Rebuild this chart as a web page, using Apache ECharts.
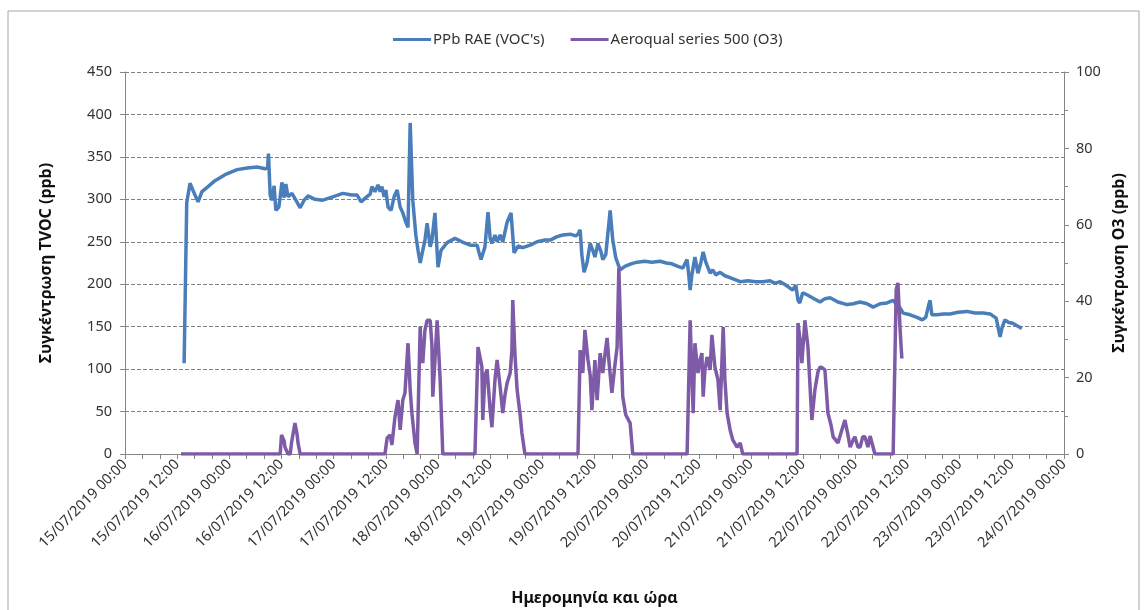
<!DOCTYPE html>
<html>
<head>
<meta charset="utf-8">
<script src="https://cdn.jsdelivr.net/npm/echarts@6/dist/echarts.min.js"></script>
<style>
    html, body { margin: 0; padding: 0; background: #fff; }
    #chart { width: 1147px; height: 610px; }
</style>
</head>
<body>
<div id="chart"></div>
<script>
'use strict';

// hours since 15/07/2019 00:00
var vocHours = [13.6, 14.2, 14.95, 15.6, 16.8, 17.7, 19.1, 20.7, 23.0, 25.8, 28.1, 30.4, 32.2, 32.8, 33.0, 33.4,
    33.8, 34.3, 34.7, 35.4, 36.1, 36.6, 37.0, 37.5, 38.4, 39.3, 40.3, 41.2, 42.1, 43.7, 45.5, 47.8, 50.1, 52.2,
    53.4, 54.3, 55.4, 56.4, 56.8, 57.5, 58.2, 58.7, 59.1, 59.6, 60.0, 60.5, 61.2, 61.9, 62.6, 63.3, 63.9, 64.6,
    65.1, 65.3, 65.6, 66.2, 66.9, 67.4, 67.9, 68.3, 69.0, 69.5, 70.2, 70.6, 71.3, 72.0, 72.7, 74.1, 75.9, 77.5,
    79.4, 81.0, 81.4, 81.9, 82.8, 83.5, 84.0, 84.4, 85.1, 85.6, 86.3, 86.9, 87.9, 88.3, 88.8, 89.5, 90.4, 91.5,
    93.2, 94.8, 96.6, 97.8, 99.4, 100.7, 102.4, 103.7, 104.2, 104.7, 105.1, 105.6, 106.3, 107.0, 107.6, 108.1,
    108.8, 109.5, 109.9, 110.6, 111.6, 112.2, 112.9, 113.9, 115.0, 116.4, 117.8, 119.6, 121.2, 123.1, 124.5,
    125.8, 127.2, 128.3, 129.3, 129.7, 130.0, 130.4, 131.1, 131.8, 132.5, 133.0, 133.6, 134.6, 135.2, 135.9,
    136.9, 138.0, 139.6, 141.5, 143.3, 145.1, 146.7, 148.4, 149.5, 150.7, 152.0, 153.6, 154.3, 154.8, 155.2,
    155.9, 157.1, 158.5, 159.9, 161.0, 162.2, 164.0, 166.1, 167.5, 169.1, 170.7, 172.1, 173.7, 175.3, 176.7,
    177.4, 178.3, 179.0, 180.6, 182.2, 183.4, 184.2, 184.9, 185.2, 185.6, 186.8, 188.2, 189.8, 191.6, 193.7,
    195.5, 197.4, 199.0, 200.4, 200.8, 201.3, 201.7, 202.4, 203.3, 204.2, 205.2, 206.3];
var vocValues = [107, 296, 319, 311, 297, 309, 315, 322, 329, 335, 337, 338, 336, 337, 354, 305,
    299, 316, 287, 291, 320, 302, 318, 303, 307, 299, 290, 299, 304, 300, 299, 303, 307, 305,
    305, 297, 302, 306, 315, 309, 317, 309, 315, 303, 311, 291, 287, 303, 311, 291, 284, 273,
    267, 266, 390, 299, 258, 240, 225, 226, 252, 272, 244, 252, 284, 220, 240, 249, 254, 250,
    246, 246, 238, 229, 244, 285, 254, 248, 258, 250, 258, 250, 273, 278, 284, 237, 245, 243,
    246, 250, 252, 252, 256, 258, 259, 257, 259, 264, 234, 214, 226, 248, 240, 232,
    248, 238, 229, 235, 287, 252, 231, 217, 221, 224, 226, 227, 226, 227, 225,
    224, 221, 219, 229, 210, 193, 211, 232, 213, 226, 238, 226, 213, 217, 211,
    214, 210, 207, 203, 204, 203, 203, 204, 201, 203, 199, 193, 199, 181, 178,
    190, 187, 183, 179, 183, 184, 179, 176, 177, 179, 177, 173, 177, 178, 181,
    177, 172, 166, 164, 161, 158, 161, 176, 181, 164, 164, 165, 165, 167, 168,
    166, 166, 165, 160, 158, 138, 148, 158, 155, 154, 151, 148];

var o3Hours = [12.9, 35.7, 36.0, 36.6, 36.8, 37.5, 38.0, 38.3, 39.1, 39.6, 39.8, 40.3,
    59.8, 60.3, 60.7, 61.0, 61.4, 62.1, 62.8, 63.3, 63.9, 64.4, 65.1, 65.6, 66.0, 66.7, 67.2,
    67.9, 68.1, 68.5, 69.0, 69.5, 70.2, 70.6, 70.8, 71.3, 71.8, 72.5, 73.1,
    80.5, 81.2, 82.1, 82.3, 82.8, 83.3, 84.0, 84.4, 85.1, 85.6, 86.3, 86.9, 87.4, 87.9, 88.6,
    89.0, 89.2, 89.7, 90.2, 90.9, 91.3, 92.0,
    104.2, 104.7, 105.3, 105.8, 106.5, 107.0, 107.4, 108.1, 108.6, 109.3, 109.9, 110.4, 110.9,
    111.3, 112.0, 112.7, 113.2, 113.6, 114.1, 114.5, 115.2, 116.2, 116.8,
    129.3, 130.0, 130.7, 131.1, 131.8, 132.3, 132.7, 133.0, 133.4, 133.9, 134.6, 135.0, 135.7,
    136.4, 136.9, 137.6, 138.0, 138.5, 139.2, 139.8, 140.8, 141.5, 142.1,
    154.6, 154.8, 155.3, 155.7, 156.4, 157.1, 157.5, 158.0, 158.7, 159.4, 159.9, 160.5, 161.0,
    161.7, 162.4, 162.9, 164.0, 164.9, 165.6, 166.3, 166.8, 167.5, 167.9, 168.6, 169.1, 169.7,
    170.2, 170.9, 171.4, 171.8, 172.5,
    176.7, 177.4, 177.8, 178.3, 178.7];
var o3Values = [0, 0, 5, 3.4, 1.8, 0, 0, 2.9, 8.1, 5, 2.9, 0,
    0, 4.2, 3.7, 5, 2.4, 9.7, 14.1, 6.3, 14.1, 16, 29, 16.8, 10.7, 2.9, 0,
    33.3, 27.8, 23.8, 32.5, 35, 35, 28.5, 15, 24.6, 35, 19.4, 0,
    0, 28, 22.8, 8.9, 20.7, 22, 11.5, 7, 19.4, 24.6, 17.5, 10.7, 15.4, 18.6, 21.2,
    27.2, 40.3, 26, 16.8, 10.2, 5.5, 0,
    0, 27.2, 21.2, 32.5, 24.6, 20.7, 11.5, 24.6, 14.1, 26.4, 21.2, 26, 30.4,
    24.6, 16, 23.3, 28, 48.7, 28.5, 15, 10.2, 8.1, 0,
    0, 35, 10.7, 29, 21.2, 24.6, 26.4, 15, 22, 25.4, 22, 31.2, 22.8,
    19.4, 11.5, 33.2, 19.4, 10.7, 6.3, 3.7, 1.8, 2.9, 0,
    0, 34.3, 29.8, 23.8, 35, 28, 19.4, 8.9, 16.8, 21.5, 22.8, 22.5, 22,
    10.7, 7.6, 4.5, 2.9, 6.3, 8.9, 5, 1.8, 3.7, 4.5, 1.8, 1.8, 4.5,
    4.5, 1.8, 4.7, 5, 0,
    0, 43, 44.8, 32.5, 25];

var xTickLabels = ['15/07/2019 00:00', '15/07/2019 12:00', '16/07/2019 00:00', '16/07/2019 12:00',
    '17/07/2019 00:00', '17/07/2019 12:00', '18/07/2019 00:00', '18/07/2019 12:00',
    '19/07/2019 00:00', '19/07/2019 12:00', '20/07/2019 00:00', '20/07/2019 12:00',
    '21/07/2019 00:00', '21/07/2019 12:00', '22/07/2019 00:00', '22/07/2019 12:00',
    '23/07/2019 00:00', '23/07/2019 12:00', '24/07/2019 00:00'];

var vocData = vocHours.map(function(h, i) { return [h, vocValues[i]]; });
var o3Data = o3Hours.map(function(h, i) { return [h, o3Values[i]]; });

var chart = echarts.init(document.getElementById('chart'));
var fontFamily = 'Noto Sans, sans-serif';
var axisGray = '#868686';

var options = {
    backgroundColor: '#fff',
    animation: false,
    textStyle: { fontFamily: fontFamily },
    legend: {
        top: 27,
        left: 388,
        itemGap: 26,
        itemWidth: 38,
        itemHeight: 3,
        icon: 'rect',
        textStyle: { fontSize: 15, color: '#333', fontFamily: fontFamily, padding: [0, 0, 0, -3] },
        data: ["PPb RAE (VOC's)", 'Aeroqual series 500 (O3)']
    },
    graphic: [{
        type: 'rect',
        shape: { x: 8, y: 11, width: 1131, height: 620 },
        style: { fill: null, stroke: '#a6a6a6', lineWidth: 1 },
        silent: true
    }],
    grid: {
        left: 125,
        right: 83,
        top: 72,
        bottom: 156,
        containLabel: false,
        outerBoundsMode: 'none'
    },
    xAxis: {
        type: 'value',
        min: 0,
        max: 216,
        interval: 12,
        name: 'Ημερομηνία και ώρα',
        nameLocation: 'middle',
        nameGap: 136,
        nameTextStyle: { fontSize: 16, fontWeight: 'bold', color: '#111' },
        axisLine: { lineStyle: { color: axisGray } },
        axisTick: { show: true, length: 5, lineStyle: { color: axisGray } },
        minorTick: { show: true, splitNumber: 3, length: 5, lineStyle: { color: axisGray } },
        splitLine: { show: false },
        axisLabel: {
            rotate: 45,
            fontSize: 14.5,
            color: '#333',
            margin: 8,
            formatter: function(v) {
                return xTickLabels[Math.round(v / 12)];
            }
        }
    },
    yAxis: [{
        type: 'value',
        min: 0,
        max: 450,
        interval: 50,
        name: 'Συγκέντρωση TVOC (ppb)',
        nameLocation: 'middle',
        nameRotate: 90,
        nameGap: 71,
        nameTextStyle: { fontSize: 16, fontWeight: 'bold', color: '#111' },
        axisLine: { show: true, lineStyle: { color: axisGray } },
        axisTick: { show: true, length: 5, lineStyle: { color: axisGray } },
        axisLabel: { fontSize: 14.5, color: '#333', margin: 13 },
        splitLine: { show: true, lineStyle: { color: '#808080', type: [4, 2], width: 1 } }
    }, {
        type: 'value',
        min: 0,
        max: 100,
        interval: 20,
        position: 'right',
        name: 'Συγκέντρωση O3 (ppb)',
        nameLocation: 'middle',
        nameRotate: 90,
        nameGap: 40,
        nameTextStyle: { fontSize: 16, fontWeight: 'bold', color: '#111' },
        axisLine: { show: true, lineStyle: { color: axisGray } },
        axisTick: { show: true, length: 5, lineStyle: { color: axisGray } },
        minorTick: { show: true, splitNumber: 2, length: 4, lineStyle: { color: axisGray } },
        axisLabel: { fontSize: 14.5, color: '#333', margin: 12 },
        splitLine: { show: false }
    }],
    series: [{
        name: "PPb RAE (VOC's)",
        type: 'line',
        yAxisIndex: 0,
        symbol: 'none',
        data: vocData,
        itemStyle: { color: '#4A7EBB' },
        lineStyle: { color: '#4A7EBB', width: 3.5 }
    }, {
        name: 'Aeroqual series 500 (O3)',
        type: 'line',
        yAxisIndex: 1,
        symbol: 'none',
        data: o3Data,
        itemStyle: { color: '#7D5BA6' },
        lineStyle: { color: '#7D5BA6', width: 3.5 }
    }]
};
chart.setOption(options);
</script>
</body>
</html>
